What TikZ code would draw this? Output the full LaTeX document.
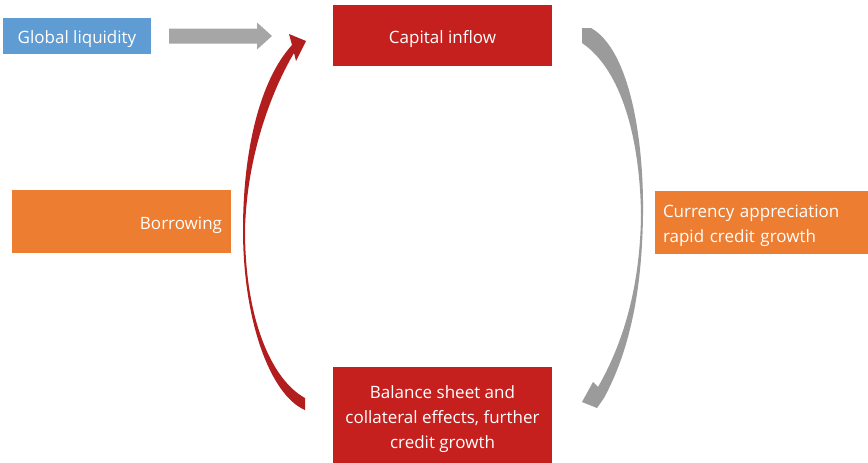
\documentclass[tikz,border=0pt]{standalone}
\usepackage{fontspec}
\setmainfont{Open Sans}
\definecolor{boxred}{RGB}{197,32,30}
\definecolor{arcred}{RGB}{178,30,30}
\definecolor{boxorange}{RGB}{237,125,49}
\definecolor{boxblue}{RGB}{94,156,211}
\definecolor{flowgray}{RGB}{166,166,166}
\definecolor{arcgray}{RGB}{155,155,155}
\tikzset{
	box/.style={fill=#1,text=white,inner sep=0pt,font=\fontsize{17}{25}\selectfont,execute at begin node=\rule{0pt}{19.5pt}},
}

\begin{document}
\begin{tikzpicture}[x=1pt,y=-1pt]
	\useasboundingbox (0,0) rectangle (868,463);
	\node[box=boxblue,minimum width=148,minimum height=36] (liq) at (77,36) {Global liquidity};
	\node[box=boxred,minimum width=219,minimum height=61] (inflow) at (442.5,35.5) {Capital inflow};
	\node[box=boxorange,minimum height=63,text width=197,inner xsep=8,align=left] (curr) at (761.5,222.5) {Currency appreciation\\rapid credit growth};
	\node[box=boxorange,minimum height=63,text width=201,inner xsep=9,align=right] (borrow) at (121.5,221.5) {Borrowing};
	\node[box=boxred,minimum width=219,minimum height=104,align=center] (bal) at (442.5,419) {Balance sheet and\\collateral effects, further\\credit growth};
	\fill[flowgray] (169,28.5) -- (257,28.5) -- (257,22.5) -- (272,36) -- (257,49.5) -- (257,43.5) -- (169,43.5) -- cycle;
	\fill[arcgray] (582,28) -- (591,28) .. controls (630,50) and (644,140) .. (643,215) .. controls (642,290) and (630,350) .. (604,398) -- (597,408) -- (582,402) -- (593,382) -- (598,387) .. controls (622,345) and (640,290) .. (641,215) .. controls (640,140) and (622,70) .. (582,43) -- cycle;
	\fill[arcred] (305,410) .. controls (270,395) and (243,320) .. (243,230) .. controls (243,150) and (260,80) .. (292,45) -- (289,34) -- (306,41) -- (296,61) -- (294,53) .. controls (275,85) and (247,150) .. (245,230) .. controls (245,320) and (272,380) .. (305,398) -- cycle;
\end{tikzpicture}
\end{document}
